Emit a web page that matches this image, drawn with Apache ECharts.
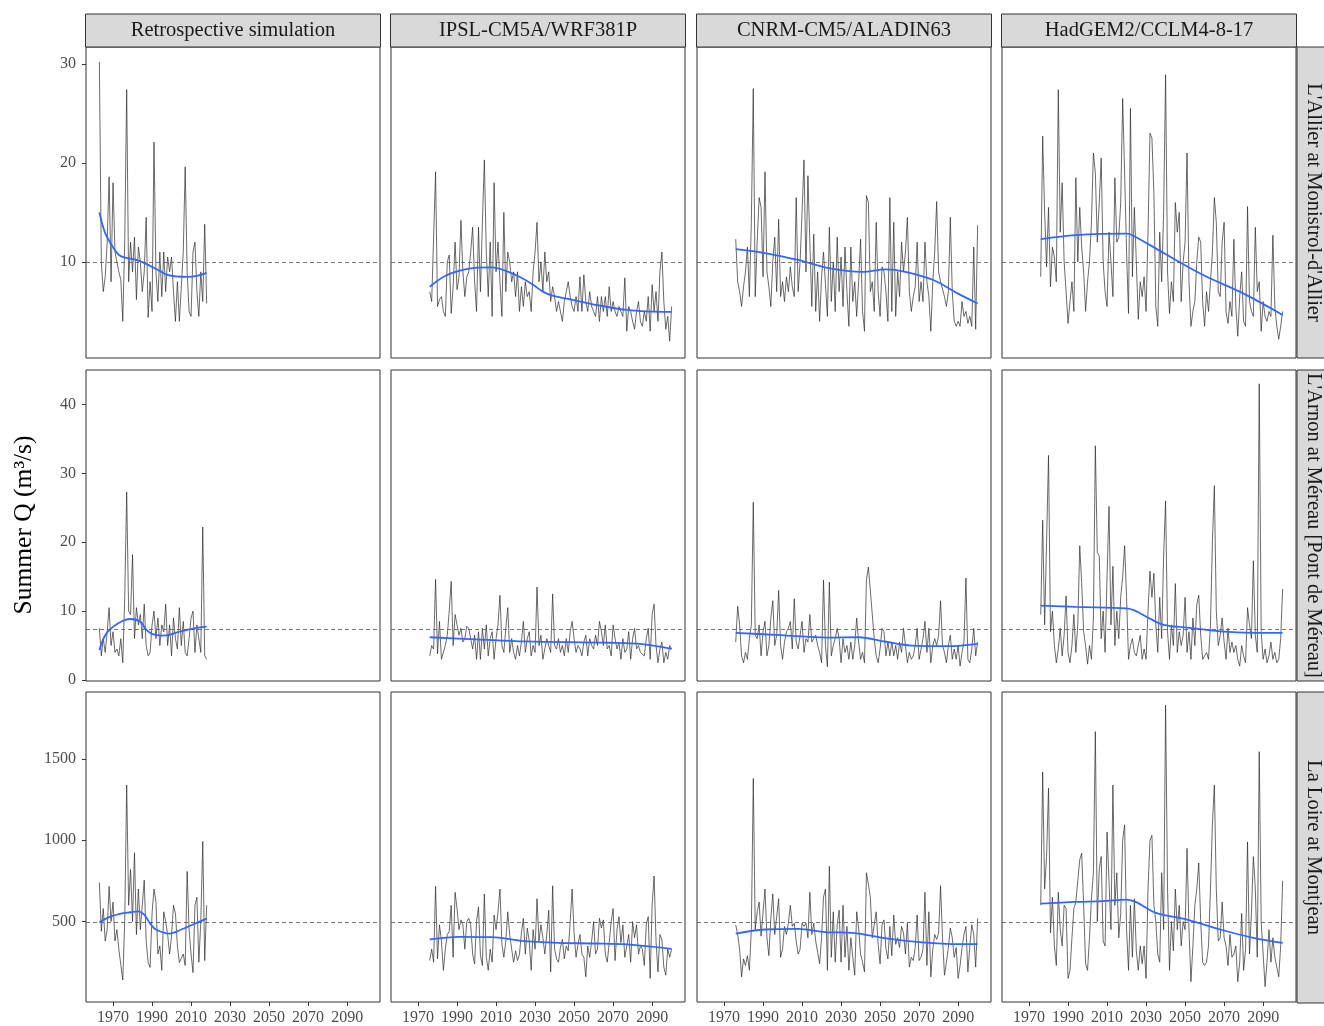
<!DOCTYPE html>
<html><head><meta charset="utf-8">
<script src="https://cdn.jsdelivr.net/npm/echarts@6/dist/echarts.min.js"></script>
<style>html,body{margin:0;padding:0;background:#fff}#c{width:1324px;height:1026px}</style>
</head><body><div id="c"></div>
<script>
// ---------- DATA ----------
const models = ['Retrospective simulation', 'IPSL-CM5A/WRF381P', 'CNRM-CM5/ALADIN63', 'HadGEM2/CCLM4-8-17'];
const rivers = ["L'Allier at Monistrol-d'Allier", "L'Arnon at Méreau [Pont de Méreau]", 'La Loire at Montjean'];
const retroStart = 1963;
const projStart = 1976;
const xTicks = [1970, 1990, 2010, 2030, 2050, 2070, 2090];
const yTicksAllier = [10, 20, 30];
const yTicksArnon = [0, 10, 20, 30, 40];
const yTicksLoire = [500, 1000, 1500];
const refLevels = [10.0, 7.35, 498];

const allierRetro = [30.2,10,7,8.5,12,18.6,8,18,11,10,9,8.2,4,12,27.4,8,12,9,12.5,6.2,11.5,10,7,9,14.5,4.4,8,5,22.1,9,6,11,6.5,11,7,10.5,9,10.5,7,4,8,4,4,11,19.6,9,5,4.5,11,12,7,4.5,9,6,13.8,5.8];
const allierIPSL = [7.0,6.0,12.5,19.1,5.5,6.2,6.5,5.0,4.5,10.0,10.7,4.8,7.5,12.0,7.2,8.5,14.2,9.0,6.5,8.5,9.0,11.0,13.5,8.0,5.0,13.5,7.0,14.0,20.3,11.0,6.5,12.0,4.5,18.0,9.0,12.0,8.0,4.5,15.0,7.0,11.0,10.0,8.0,9.0,6.5,9.0,5.0,7.5,5.5,8.0,6.5,7.0,5.0,9.0,11.0,14.0,8.0,10.0,7.0,11.0,8.0,9.0,6.0,7.5,6.5,5.0,6.0,5.0,4.0,6.0,7.0,8.0,6.5,5.5,5.0,6.5,5.0,8.5,5.0,8.7,6.0,5.0,7.0,5.5,5.0,4.5,6.5,4.0,6.5,5.0,6.5,4.5,7.5,5.0,6.0,5.0,4.5,5.5,5.0,4.5,8.4,3.0,5.5,5.0,4.0,3.2,5.0,6.0,4.0,3.5,5.0,4.0,6.5,3.0,7.7,5.0,7.0,4.0,9.0,11.0,6.0,3.2,4.5,2.0,5.5];
const allierCNRM = [12.3,8.0,7.0,5.5,7.5,9.0,11.5,6.5,14.0,27.5,6.5,12.0,16.5,15.5,8.5,19.1,9.0,7.5,5.5,10.0,12.5,7.0,14.3,6.5,8.0,6.0,8.5,7.0,9.5,7.5,6.5,16.5,7.0,10.0,15.0,20.3,9.0,18.7,12.0,5.5,12.8,5.0,9.0,4.0,8.5,11.0,11.2,4.5,13.5,6.0,10.0,5.0,12.5,7.0,10.5,5.5,11.5,7.0,3.5,11.5,6.0,8.0,4.5,8.0,12.3,5.0,3.0,16.7,16.0,7.0,8.0,5.0,14.0,7.0,4.5,9.5,9.0,7.0,4.0,16.5,5.0,14.0,4.5,9.0,6.5,12.0,9.0,11.0,14.5,7.0,5.0,6.5,7.5,12.0,6.0,8.0,6.0,12.0,8.0,6.5,3.0,8.0,11.0,16.1,9.0,8.0,8.0,6.5,5.5,7.0,14.5,7.0,4.0,3.5,4.0,3.5,6.0,4.5,5.0,3.8,4.5,3.5,11.5,3.2,13.7];
const allierHad = [8.5,22.7,15.0,9.5,15.5,7.5,11.5,10.5,8.0,27.4,13.0,18.0,10.0,7.0,3.8,6.0,8.0,5.0,18.5,10.0,15.5,11.5,9.0,5.0,8.0,10.0,14.0,21.0,19.0,12.0,16.0,20.5,10.0,7.0,5.5,13.0,10.0,6.5,18.5,12.0,12.5,16.0,26.5,19.0,11.0,4.8,25.5,8.5,15.5,10.0,4.2,8.0,6.5,8.5,5.0,13.0,23.0,22.5,17.0,5.5,3.5,13.0,8.0,15.0,28.9,9.0,4.8,8.0,6.0,16.0,13.0,15.0,6.0,10.0,12.0,21.0,8.0,3.5,5.0,6.0,10.0,12.5,12.0,6.0,3.5,7.0,5.0,8.0,11.0,16.5,14.0,7.0,6.5,12.0,14.0,5.0,3.8,6.0,4.5,12.3,5.5,2.5,6.5,9.0,4.0,3.5,15.6,6.0,5.0,4.5,13.5,7.0,8.0,3.0,6.0,4.5,4.0,5.0,4.5,12.7,5.5,3.5,2.2,3.5,5.0];

const arnonRetro = [7.5,3.5,6,4,7,10.5,5,7,4,4.5,3.5,6,2.5,12,27.3,10,9.5,18.2,6,10.5,8,9.5,6,11,5,3.5,4,8,10,6,9,5,8,7,11,5,8,3.5,9,6,4.5,10.5,5,8.5,4,3.5,6,9,10,4,8,6,4,22.2,3.5,3];
const arnonIPSL = [3.5,5,4.5,14.6,3.8,8.5,3,4,5,6.5,10,14.3,5,9.5,8,6.5,7.5,5.5,6,7.8,7.5,6,4.5,6.5,3,7,3,7.5,4.5,8,3.5,6,7,3,6,8,12.3,5,4,7.5,10.5,4,6,4,3,5,3.5,5.5,8.5,4,6,7,3.5,5,4,13.5,5,6.5,3,4.5,6,5,4,12.5,5,4.5,6,4,5,3.5,6,4,7,8.5,6,4,5,4.5,3.5,5.5,6.5,3.5,6,5,4.5,6.5,5,8.5,7,5,8,4.5,5,3.5,8,6,4.5,5.5,3,6,4,4.5,7,3,6,7.5,4.5,5,4,4,3.5,6,7.5,3,9.5,11,5,2.5,4.5,5.5,2.5,4,3,5,4.5];
const arnonCNRM = [5.5,10.7,8,3.5,2.5,4,3,6,8,25.8,6.5,6,8,3.5,7,8.5,3.5,5,9,11.5,5,6.5,13,5,3,5.5,7,7.5,8.5,4.5,11.8,5.5,4.5,6.5,8.5,4,6,5.5,9.5,5.5,6,6.5,5,4,2.5,14.5,5,1.9,14.2,3.5,5,6,7.5,6,2.5,6,4,5,3,5.5,3,5,9,5.5,3,4,2.5,14.5,16.4,13,9.5,6,3.5,2.5,4.5,7.5,7,3.5,5.5,3.5,5.5,3.5,5,3,5.5,4,7.5,5,2.5,4,3,3.5,5,7.5,3,4.5,6,8.5,4,7.5,2.5,5,6,5,6.5,11.5,5,4,2.5,5,6.5,3,4.5,3,5,2,4,5.5,14.8,3,2.5,4.5,7.5,3.5,5.5];
const arnonHad = [9.5,23.2,8,20,32.6,7,10,5,2.5,4.5,7.5,3.5,6.5,12.2,4,2.5,5,9.5,4,8,19.5,14,7,5,2.3,5,3,9,34,18.5,18,6,10,4,15,25.2,8,16.5,5,10,6,12,15,19.5,12,3,5,6,4,3.5,5,6.5,3,4.5,3,10,15.8,12,15.5,8,4,12,6,18,26,7,3,8,5,14,4,7,5,6.5,12,4,7,3,9,5,11,12.3,6.5,3,3.5,4,3,8,20,28.2,10,5,6.5,9,5.5,3,7.5,4,5.5,4,5,3,2,5,3.5,2.5,10.5,8,6,17.3,6.5,4,43,7,3,4.5,2.5,3.5,5.5,3,4,2.5,3,6,13.2];

const loireRetro = [740,440,580,380,450,716,500,620,380,450,328,330,140,500,1340,600,820,500,923,420,700,450,600,754,380,250,218,550,700,620,300,350,200,560,500,420,300,410,600,550,350,248,250,300,230,808,450,300,186,600,650,250,500,993,260,600];
const loireIPSL = [260,330,250,717,270,480,380,200,330,420,440,600,280,680,580,450,510,480,330,500,520,480,300,240,500,590,290,230,670,280,200,330,250,540,450,560,700,360,280,380,560,420,330,250,320,260,300,430,520,300,460,380,200,450,330,640,380,480,400,300,420,570,190,720,330,270,250,340,390,270,350,320,500,700,430,280,360,420,300,280,160,350,280,380,500,300,330,520,460,510,300,250,370,500,580,260,450,530,370,480,280,350,420,250,500,400,480,300,350,330,230,480,530,150,600,780,380,190,420,390,220,170,330,280,330];
const loireCNRM = [480,420,330,160,270,230,290,200,450,1380,450,560,620,410,400,700,400,290,520,670,420,530,640,280,330,470,420,490,600,470,490,380,300,330,490,470,490,400,680,420,490,380,310,240,400,650,700,200,840,280,560,250,480,570,250,600,280,470,200,400,280,170,560,460,300,250,190,800,730,650,400,480,560,360,240,480,510,330,270,470,290,540,360,400,340,470,430,300,490,220,280,260,340,540,260,280,330,680,230,560,160,330,420,390,430,720,400,170,250,340,460,400,280,340,150,230,340,420,470,190,350,480,420,220,520];
const loireHad = [600,1420,700,900,1320,430,650,350,230,680,450,350,600,580,150,200,400,580,620,750,880,920,600,240,200,400,640,800,1668,500,820,900,380,350,1050,1050,450,1340,600,800,400,550,1000,1095,450,200,600,280,640,320,200,350,240,350,150,700,1000,1030,600,500,300,250,800,450,1831,700,200,500,320,700,450,600,350,500,450,950,450,130,350,600,700,860,500,250,230,250,350,700,1100,1340,700,380,400,620,400,350,230,420,280,300,350,130,250,550,200,330,990,300,550,900,700,280,1545,500,300,100,250,450,250,400,280,220,160,350,750];

// loess-like trend curves: [year, value]
const allierRetroTrend = [[1963,15.0],[1966,12.9],[1970,11.5],[1973,10.7],[1977,10.4],[1982,10.2],[1987,9.8],[1990,9.5],[1994,9.1],[1997,8.75],[2002,8.55],[2008,8.5],[2013,8.6],[2018,8.9]];
const allierIPSLTrend = [[1976,7.5],[1984,8.6],[1991,9.1],[1999,9.4],[2008,9.45],[2015,9.1],[2022,8.5],[2029,7.7],[2034,7.0],[2039,6.6],[2051,6.1],[2063,5.6],[2077,5.15],[2087,5.0],[2100,4.95]];
const allierCNRMTrend = [[1976,11.3],[1991,10.9],[2008,10.2],[2023,9.4],[2041,9.0],[2053,9.25],[2063,9.0],[2077,8.2],[2090,6.8],[2100,5.8]];
const allierHadTrend = [[1976,12.3],[1994,12.7],[2020,12.85],[2023,12.7],[2039,10.9],[2059,8.7],[2080,6.8],[2100,4.65]];
const arnonRetroTrend = [[1963,4.35],[1966,6.5],[1970,7.7],[1975,8.6],[1979,8.85],[1984,8.45],[1987,7.3],[1990,6.7],[1995,6.45],[1999,6.55],[2004,7.0],[2011,7.45],[2018,7.75]];
const arnonIPSLTrend = [[1976,6.2],[2000,5.9],[2025,5.6],[2068,5.4],[2085,5.2],[2100,4.5]];
const arnonCNRMTrend = [[1976,6.85],[1999,6.5],[2023,6.15],[2039,6.2],[2053,5.55],[2066,5.0],[2085,4.9],[2100,5.25]];
const arnonHadTrend = [[1976,10.8],[1994,10.6],[2020,10.4],[2024,10.1],[2032,8.9],[2039,8.0],[2051,7.6],[2068,7.05],[2085,6.85],[2100,6.85]];
const loireRetroTrend = [[1963,496],[1968,527],[1974,549],[1979,557],[1983,563],[1986,543],[1989,488],[1992,451],[1999,426],[2005,451],[2011,482],[2018,518]];
const loireIPSLTrend = [[1976,390],[1991,406],[2008,404],[2022,383],[2042,369],[2060,365],[2077,359],[2100,332]];
const loireCNRMTrend = [[1976,426],[1991,451],[2008,455],[2022,435],[2036,430],[2053,396],[2070,373],[2084,363],[2100,361]];
const loireHadTrend = [[1976,610],[1994,621],[2008,625],[2020,635],[2025,619],[2035,553],[2051,512],[2068,451],[2085,400],[2100,369]];

// ---------- LAYOUT ----------
const FONT = "'Liberation Serif','Times New Roman','DejaVu Serif',serif";
const colLeft = [86, 391, 697, 1002];
const panelW = 294;
const rowTop = [47, 370, 692];
const panelH = 311;
const xMin = 1956.15, xMax = 2106.85;
const yRanges = [[0.3, 31.7], [-0.15, 45.0], [5, 1912]];
const yTicks = [yTicksAllier, yTicksArnon, yTicksLoire];

const values = [
  [allierRetro, allierIPSL, allierCNRM, allierHad],
  [arnonRetro, arnonIPSL, arnonCNRM, arnonHad],
  [loireRetro, loireIPSL, loireCNRM, loireHad]
];
const trends = [
  [allierRetroTrend, allierIPSLTrend, allierCNRMTrend, allierHadTrend],
  [arnonRetroTrend, arnonIPSLTrend, arnonCNRMTrend, arnonHadTrend],
  [loireRetroTrend, loireIPSLTrend, loireCNRMTrend, loireHadTrend]
];
const plain = v => String(Math.round(v));

const grids = [], xAxes = [], yAxes = [], series = [], graphics = [];
for (let r = 0; r < 3; r++) {
  for (let c = 0; c < 4; c++) {
    const idx = r * 4 + c;
    grids.push({ left: colLeft[c], top: rowTop[r], width: panelW, height: panelH,
      show: true, borderColor: '#333333', borderWidth: 1, backgroundColor: '#ffffff' });
    xAxes.push({ type: 'value', gridIndex: idx, min: xMin, max: xMax,
      axisLine: { show: false }, splitLine: { show: false },
      axisTick: { show: r === 2, length: 4, lineStyle: { color: '#333333', width: 1 }, customValues: xTicks },
      axisLabel: { show: r === 2, customValues: xTicks, formatter: plain, fontFamily: FONT, fontSize: 16, color: '#4d4d4d', margin: 8 } });
    yAxes.push({ type: 'value', gridIndex: idx, min: yRanges[r][0], max: yRanges[r][1],
      axisLine: { show: false }, splitLine: { show: false },
      axisTick: { show: c === 0, length: 4, lineStyle: { color: '#333333', width: 1 }, customValues: yTicks[r] },
      axisLabel: { show: c === 0, customValues: yTicks[r], formatter: plain, fontFamily: FONT, fontSize: 16, color: '#4d4d4d', margin: 10 } });
    const start = c === 0 ? retroStart : projStart;
    const vals = values[r][c];
    series.push({ type: 'line', xAxisIndex: idx, yAxisIndex: idx, silent: true,
      data: vals.map((v, i) => [start + i, v]), showSymbol: false, symbol: 'none',
      lineStyle: { color: '#2b2b2b', width: 0.7 }, z: 2,
      markLine: { silent: true, symbol: 'none', label: { show: false },
        lineStyle: { color: '#555555', type: [4, 3], width: 0.8 },
        data: [{ yAxis: refLevels[r] }] } });
    series.push({ type: 'line', xAxisIndex: idx, yAxisIndex: idx, silent: true,
      data: trends[r][c], showSymbol: false, symbol: 'none', smooth: 0.35,
      lineStyle: { color: '#3366ff', width: 1.8 }, z: 3 });
  }
}

// strips
for (let c = 0; c < 4; c++) {
  graphics.push({ type: 'rect', shape: { x: colLeft[c] - 0.5, y: 14, width: panelW + 1, height: 33 },
    style: { fill: '#d9d9d9', stroke: '#333333', lineWidth: 1 }, z: 10 });
  graphics.push({ type: 'text', x: colLeft[c] + panelW / 2, y: 31,
    style: { text: models[c], font: "20.5px " + FONT, fill: '#1a1a1a', textAlign: 'center', textVerticalAlign: 'middle' }, z: 11 });
}
for (let r = 0; r < 3; r++) {
  graphics.push({ type: 'rect', shape: { x: 1297, y: rowTop[r], width: 40, height: panelH },
    style: { fill: '#d9d9d9', stroke: '#333333', lineWidth: 1 }, z: 10 });
  graphics.push({ type: 'text', x: 1313, y: rowTop[r] + panelH / 2, rotation: -Math.PI / 2,
    style: { text: rivers[r], font: "20.5px " + FONT, fill: '#1a1a1a', textAlign: 'center', textVerticalAlign: 'middle' }, z: 11 });
}
graphics.push({ type: 'text', x: 24, y: 525, rotation: Math.PI / 2,
  style: { text: 'Summer Q (m³/s)', font: "25.5px " + FONT, fill: '#000000', textAlign: 'center', textVerticalAlign: 'middle' }, z: 11 });

const chart = echarts.init(document.getElementById('c'), null, { renderer: 'canvas' });
chart.setOption({
  animation: false,
  backgroundColor: '#ffffff',
  grid: grids, xAxis: xAxes, yAxis: yAxes, series: series,
  graphic: graphics
});
</script>
</body></html>
